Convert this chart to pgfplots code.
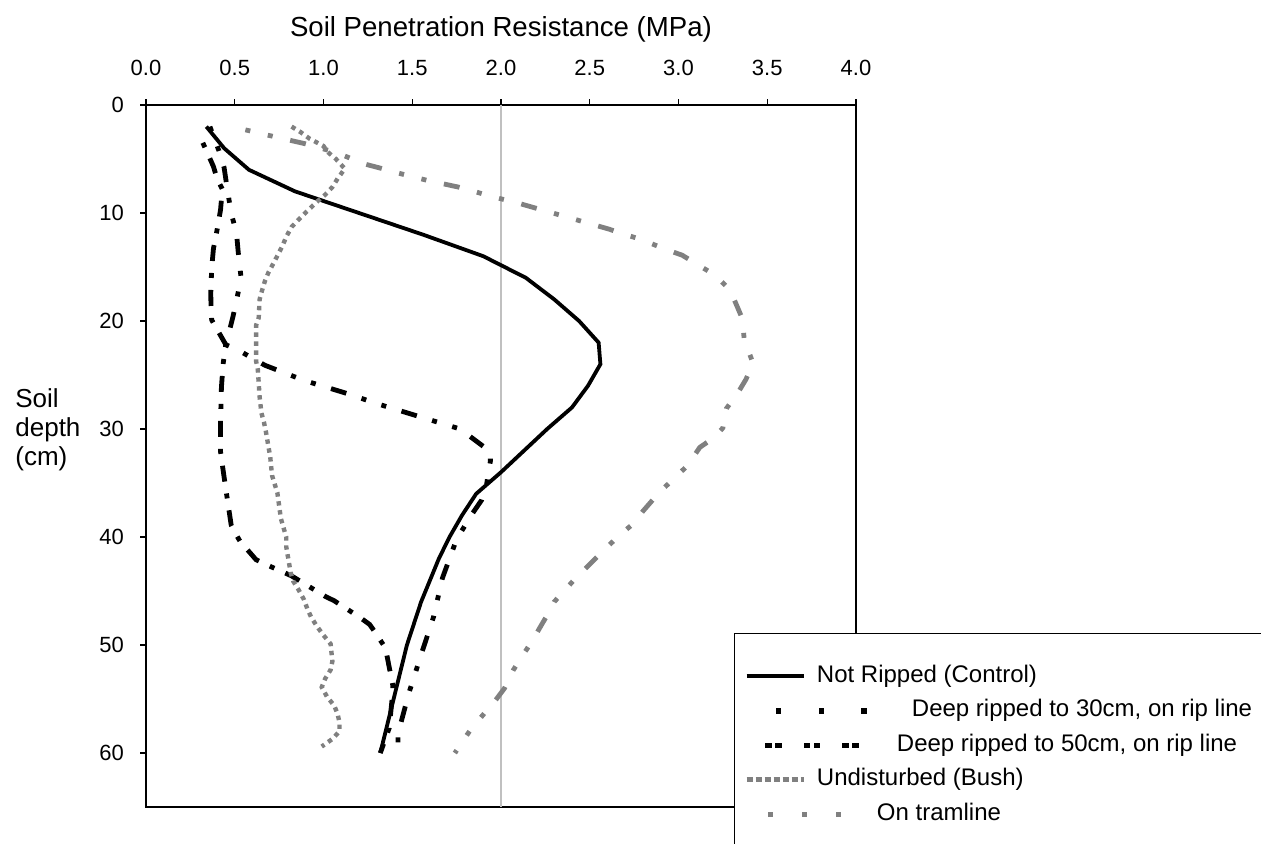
\documentclass[border=0pt]{standalone}
\usepackage{pgfplots}
\pgfplotsset{compat=1.18}
\usepackage{fontspec}
\setmainfont{Liberation Sans}
\definecolor{grayline}{RGB}{128,128,128}
\definecolor{lightgrid}{RGB}{192,192,192}
\begin{document}
\begin{tikzpicture}
\begin{axis}[
  name=ax,
  at={(73pt,18.5pt)}, anchor=south west,
  width=355pt, height=351pt, scale only axis,
  xmin=0, xmax=4, ymin=0, ymax=65,
  y dir=reverse,
  xtick={0,0.5,...,4}, ytick={0,10,...,60},
  xtick pos=right, xticklabel pos=right,
  ytick pos=left, yticklabel pos=left,
  tick align=outside,
  major tick length=3pt,
  tick style={black, line width=0.6pt},
  axis line style={black, line width=0.6pt},
  tick label style={font=\fontsize{11}{13}\selectfont},
  y tick label style={xshift=-4.5pt, /pgf/number format/assume math mode=true},
  x tick label style={yshift=8pt, /pgf/number format/.cd, fixed, fixed zerofill, precision=1, assume math mode=true},
  legend style={at={(0.8282,0.2479)}, anchor=north west, draw=black, line width=0.5pt,
    inner xsep=5pt, inner ysep=15.5pt, row sep=5.2pt, column sep=5.5pt,
    font=\fontsize{12}{14}\selectfont,
    nodes={inner sep=0pt, text height=9pt, text depth=3pt}},
  legend cell align=left,
]
\addplot[lightgrid, line width=1pt, forget plot] coordinates {(2,0) (2,65)};

\addplot[black, line width=1.9pt,
  legend image code/.code={\draw[black, line width=2pt, solid] (0pt,0pt) -- (28.5pt,0pt);}]
coordinates {(0.34,2)(0.44,4)(0.58,6)(0.84,8)(1.20,10)(1.56,12)(1.90,14)(2.14,16)(2.30,18)(2.44,20)(2.55,22)(2.56,24)(2.49,26)(2.40,28)(2.26,30)(2.13,32)(2.00,34)(1.86,36)(1.78,38)(1.71,40)(1.65,42)(1.60,44)(1.55,46)(1.51,48)(1.47,50)(1.44,52)(1.41,54)(1.38,56)(1.35,58)(1.32,60)};
\addlegendentry{Not Ripped (Control)}

\addplot[black, line width=2.4pt, dash pattern=on 2.5pt off 8pt on 2.5pt off 8pt on 8pt off 8pt,
  legend image code/.code={\path[draw=none] (0pt,-1pt) rectangle (28.5pt,1pt);
    \fill[black,draw=none,solid,overlay] (14.45pt,-1.4pt) rectangle ++(2.8pt,2.8pt);
    \fill[black,draw=none,solid,overlay] (36.05pt,-1.4pt) rectangle ++(2.8pt,2.8pt);
    \fill[black,draw=none,solid,overlay] (57.25pt,-1.4pt) rectangle ++(2.8pt,2.8pt);}]
coordinates {(0.36,2)(0.41,4.2)(0.44,5.8)(0.46,8)(0.48,10.0)(0.51,11.9)(0.52,13.7)(0.535,15.9)(0.52,17.3)(0.49,19.6)(0.45,22.2)(0.52,22.7)(0.67,24.1)(0.89,25.5)(0.97,25.9)(1.11,26.6)(1.33,27.8)(1.55,28.9)(1.77,30.0)(1.94,32.1)(1.94,33.0)(1.92,35.0)(1.89,36.6)(1.84,37.8)(1.75,40.2)(1.67,43.8)(1.62,47.4)(1.55,50.9)(1.48,54.5)(1.42,58.2)(1.42,60)};
\addlegendentry{\hspace{47.5pt}Deep ripped to 30cm, on rip line}

\addplot[black, line width=2.4pt, dash pattern=on 2.5pt off 6pt on 8pt off 6pt,
  legend image code/.code={\path[draw=none] (0pt,-1pt) rectangle (28.5pt,1pt);
    \foreach \s in {9.35,28.5,47.65}{
      \fill[black,draw=none,solid,overlay] (\s pt,-1.25pt) rectangle ++(3.3pt,2.5pt);
      \fill[black,draw=none,solid,overlay] (\s pt+5pt,-1.25pt) rectangle ++(3.3pt,2.5pt);}}]
coordinates {(0.32,3.5)(0.345,4.4)(0.38,5.7)(0.40,6.8)(0.43,7.8)(0.42,9.7)(0.40,11.6)(0.38,13.3)(0.37,15.1)(0.365,17.4)(0.366,18.6)(0.37,19.9)(0.45,22.2)(0.435,23.9)(0.425,26.1)(0.42,29.3)(0.42,32.1)(0.43,33.3)(0.45,35.6)(0.48,38.9)(0.505,39.7)(0.53,40.4)(0.62,42.1)(0.67,42.5)(0.82,43.6)(0.87,44.1)(1.01,45.5)(1.06,45.9)(1.21,47.5)(1.26,48.1)(1.29,48.8)(1.35,50.3)(1.36,51.2)(1.39,53.7)(1.39,54.4)(1.375,56.9)(1.37,57.7)(1.32,60)};
\addlegendentry{\hspace{40pt}Deep ripped to 50cm, on rip line}

\addplot[grayline, line width=2.2pt, dash pattern=on 2.2pt off 2.3pt,
  legend image code/.code={\draw[grayline, line width=2.2pt, dash pattern=on 3.2pt off 1.3pt] (0pt,0pt) -- (28.5pt,0pt);}]
coordinates {(0.82,2.0)(0.87,2.5)(0.92,3.1)(1.0,3.8)(1.02,4.3)(1.07,5.0)(1.12,5.9)(1.08,6.8)(1.05,7.6)(1.01,8.3)(0.96,9.0)(0.91,9.8)(0.86,10.6)(0.82,11.3)(0.79,12.2)(0.77,13.0)(0.745,13.8)(0.72,14.6)(0.69,15.5)(0.67,16.3)(0.655,17.1)(0.64,18.0)(0.635,19.7)(0.62,20.4)(0.62,22)(0.62,23.7)(0.63,24.5)(0.64,27)(0.65,28.5)(0.665,29.4)(0.676,30.3)(0.70,32.6)(0.71,34.3)(0.74,35.9)(0.76,38.3)(0.79,40)(0.79,40.9)(0.815,43.3)(0.83,44.1)(0.86,44.9)(0.89,45.8)(0.91,46.7)(0.93,47.4)(0.96,48.2)(1.0,49.1)(1.04,49.9)(1.05,51.5)(1.04,52.3)(1.01,53.1)(0.99,53.9)(1.02,54.8)(1.06,55.6)(1.08,56.4)(1.09,57.2)(1.09,58)(1.05,58.7)(0.99,59.4)};
\addlegendentry{Undisturbed (Bush)}

\addplot[grayline, line width=2.4pt, dash pattern=on 2.5pt off 9pt on 2.5pt off 9pt on 8pt off 9pt,
  legend image code/.code={\path[draw=none] (0pt,-1pt) rectangle (28.5pt,1pt);
    \fill[grayline,draw=none,solid,overlay] (10.55pt,-1.25pt) rectangle ++(2.5pt,2.5pt);
    \fill[grayline,draw=none,solid,overlay] (27.75pt,-1.25pt) rectangle ++(2.5pt,2.5pt);
    \fill[grayline,draw=none,solid,overlay] (44.45pt,-1.25pt) rectangle ++(2.5pt,2.5pt);}]
coordinates {(0.56,2.3)(0.74,3.0)(0.90,3.6)(1.07,4.4)(1.24,5.5)(1.31,5.8)(1.42,6.3)(1.59,7.0)(1.76,7.6)(1.83,7.9)(1.93,8.4)(2.10,9.1)(2.27,9.9)(2.44,10.7)(2.61,11.5)(2.68,11.9)(2.78,12.4)(2.95,13.5)(3.02,13.9)(3.12,14.9)(3.20,15.7)(3.29,17.1)(3.36,19.8)(3.37,21.7)(3.39,22.6)(3.42,23.9)(3.38,25.4)(3.34,26.5)(3.27,28.1)(3.25,29.9)(3.20,30.8)(3.12,31.7)(3.05,33.4)(2.89,35.9)(2.80,37.6)(2.75,38.7)(2.67,39.8)(2.58,41.2)(2.41,44.0)(2.30,46.0)(2.28,46.7)(2.24,47.8)(2.18,49.5)(2.07,52.3)(2.02,54)(1.97,55.1)(1.83,57.8)(1.74,60)};
\addlegendentry{\hspace{30pt}On tramline}
\end{axis}
\node[font=\fontsize{13.8}{16}\selectfont] at ([yshift=38pt]ax.north) {Soil Penetration Resistance (MPa)};
\node[font=\fontsize{13}{14.5}\selectfont, anchor=west, align=left, inner sep=0pt] at (7.5pt,207pt) {Soil\\depth\\(cm)};
\pgfresetboundingbox
\path[use as bounding box] (0pt,0pt) rectangle (630.5pt,422pt);
\end{tikzpicture}
\end{document}
